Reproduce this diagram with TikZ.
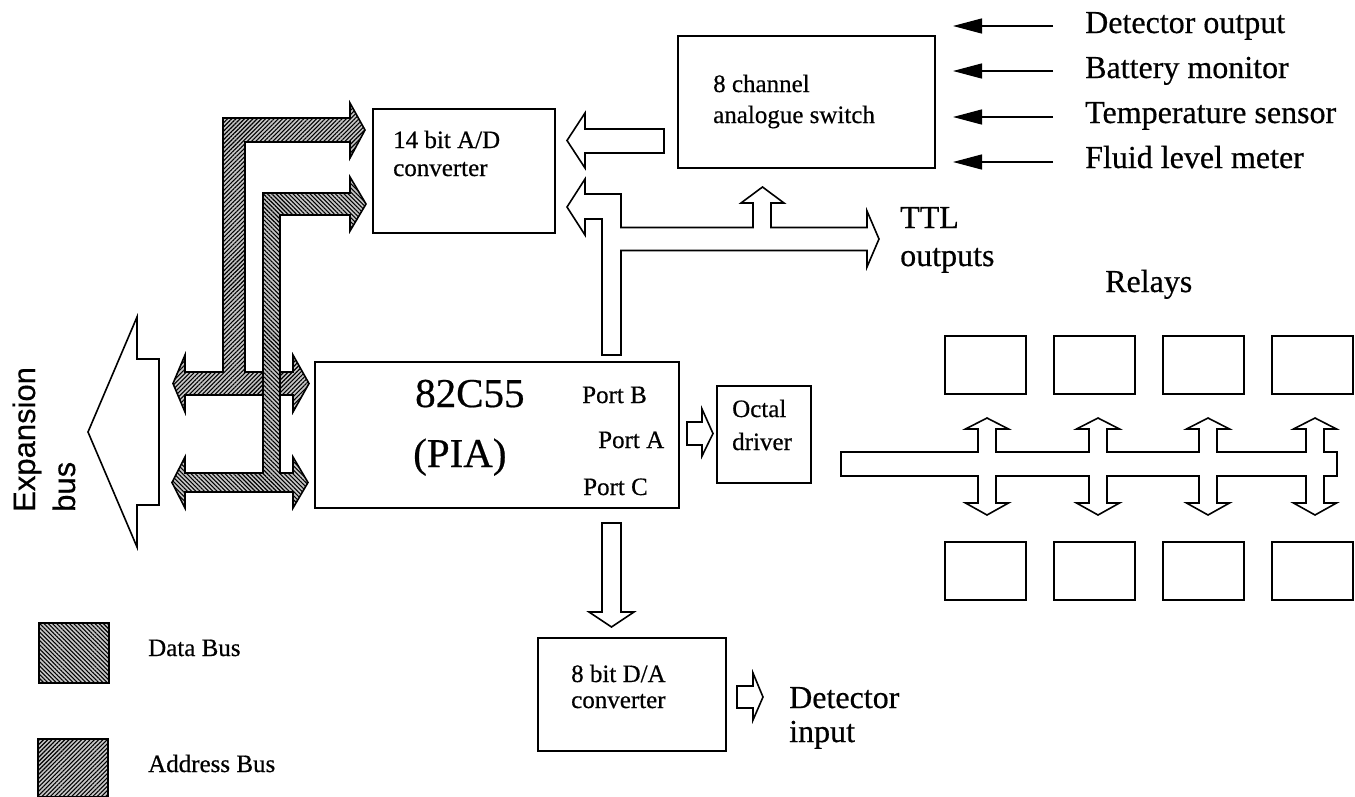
\documentclass[tikz,border=0pt]{standalone}
\usepackage{fontspec}
\setmainfont{Liberation Serif}[FakeBold=0.5]
\newfontfamily\sansf{Liberation Sans}[FakeBold=0.4]
\usetikzlibrary{arrows.meta,patterns.meta}
\begin{document}
\begin{tikzpicture}[x=1pt,y=-1pt,
  box/.style={draw,line width=1.6pt,inner sep=0pt,outer sep=0pt,anchor=north west},
  lbl/.style={anchor=base west,inner sep=0pt,font=\fontsize{25}{30}\selectfont},
  biglbl/.style={anchor=base west,inner sep=0pt,font=\fontsize{32}{38}\selectfont},
  pialbl/.style={anchor=base west,inner sep=0pt,font=\fontsize{41}{48}\selectfont},
  harrow/.style={draw,line width=1.6pt,fill=white,line join=miter},
  databus/.style={draw,line width=1.6pt,line join=miter,preaction={fill=gray!45},
     pattern={Lines[angle=-45,distance=3pt,line width=1.1pt]},pattern color=black},
  addrbus/.style={draw,line width=1.6pt,line join=miter,preaction={fill=gray!45},
     pattern={Lines[angle=45,distance=3pt,line width=1.1pt]},pattern color=black},
  sig/.style={line width=1.4pt,-{Triangle[length=29pt,width=15pt]}}
]
\useasboundingbox (0,0) rectangle (1355,796);

% ---------- boxes ----------
\node[box,minimum width=182pt,minimum height=124pt] (ad) at (373,109) {};
\node[box,minimum width=257pt,minimum height=132pt] (sw) at (678,36) {};
\node[box,minimum width=364pt,minimum height=146pt] (pia) at (315,362) {};
\node[box,minimum width=94pt,minimum height=97pt] (oct) at (717,386) {};
\node[box,minimum width=188pt,minimum height=113pt] (da) at (538,638) {};
\foreach \i/\x in {1/945,2/1054,3/1163,4/1272}{
  \node[box,minimum width=81pt,minimum height=58pt] (rt\i) at (\x,336) {};
  \node[box,minimum width=81pt,minimum height=58pt] (rb\i) at (\x,542) {};
}

% ---------- texts ----------
\node[lbl] (adt1) at (393,148) {14 bit A/D};
\node[lbl] (adt2) at (393,176) {converter};
\node[lbl] (swt1) at (713,92) {8 channel};
\node[lbl] (swt2) at (713,123) {analogue switch};
\node[pialbl] (piat1) at (415,407) {82C55};
\node[pialbl] (piat2) at (413,467) {(PIA)};
\node[lbl] (pb) at (582,403) {Port B};
\node[lbl] (pa) at (598,448) {Port A};
\node[lbl] (pc) at (583,495) {Port C};
\node[lbl] (oct1) at (732,417) {Octal};
\node[lbl] (oct2) at (732,450) {driver};
\node[lbl] (dat1) at (571,682) {8 bit D/A};
\node[lbl] (dat2) at (571,708) {converter};
\node[biglbl] (di1) at (789,708) {Detector};
\node[biglbl] (di2) at (789,742) {input};
\node[biglbl] (ttl1) at (900,228) {TTL};
\node[biglbl] (ttl2) at (900,266) {outputs};
\node[biglbl] (rel) at (1105,292) {Relays};
\node[biglbl] (sg1) at (1085,33) {Detector output};
\node[biglbl] (sg2) at (1085,78) {Battery monitor};
\node[biglbl] (sg3) at (1085,123) {Temperature sensor};
\node[biglbl] (sg4) at (1085,168) {Fluid level meter};
\node[lbl] (lg1) at (148,656) {Data Bus};
\node[lbl] (lg2) at (148,772) {Address Bus};
\node[rotate=90,anchor=base west,inner sep=0pt,font=\sansf\fontsize{31}{37}\selectfont] (exp1) at (35,512) {Expansion};
\node[rotate=90,anchor=base west,inner sep=0pt,font=\sansf\fontsize{31}{37}\selectfont] (exp2) at (75,512) {bus};

% ---------- signal input arrows ----------
\foreach \k/\y in {1/26,2/71,3/117,4/162}{
  \coordinate (ss\k) at (1053,\y);
  \coordinate (se\k) at (953,\y);
  \draw[sig] (ss\k) -- (se\k);
}

% ---------- expansion bus ----------
\draw[line width=1.6pt,line join=miter] (159,359) -- (137,359) -- (137,317) -- (88,432) -- (137,547) -- (137,505) -- (159,505) -- cycle;

% ---------- address bus (outer) ----------
\draw[addrbus] (173,383.5) -- (185,355) -- (185,372) -- (223,372) -- (223,118) -- (350,118) -- (350,103)
  -- (365,130) -- (350,158) -- (350,142) -- (245,142) -- (245,372) -- (293,372) -- (293,355)
  -- (309,383.5) -- (293,412) -- (293,395) -- (185,395) -- (185,412) -- cycle;

% ---------- data bus (inner) ----------
\draw[databus] (172,482.5) -- (185,457) -- (185,473) -- (263,473) -- (263,193) -- (350,193) -- (350,177)
  -- (366,204) -- (350,231) -- (350,215) -- (280,215) -- (280,473) -- (293,473) -- (293,457)
  -- (308,482.5) -- (293,508) -- (293,492) -- (185,492) -- (185,508) -- cycle;

% ---------- legend ----------
\draw[databus] (39,623) rectangle (109,683);
\draw[addrbus] (38,739) rectangle (108,797);

% ---------- hollow arrows ----------
% switch -> A/D
\draw[harrow] (664,129) -- (585,129) -- (585,113) -- (567,140.5) -- (585,168) -- (585,153) -- (664,153) -- cycle;
% PIA port B -> A/D, switch, TTL outputs
\draw[harrow] (567,207) -- (585,179) -- (585,194) -- (621,194) -- (621,227.5) -- (753,227.5) -- (753,203)
  -- (741,203) -- (762.5,187) -- (784,203) -- (771,203) -- (771,227.5) -- (867,227.5) -- (867,211)
  -- (879,239) -- (867,267) -- (867,250.5) -- (621,250.5) -- (621,355) -- (602,355) -- (602,219)
  -- (585,219) -- (585,235) -- cycle;
% port A -> octal driver
\draw[harrow] (687,422) -- (702,422) -- (702,409) -- (713,433.5) -- (702,456) -- (702,445) -- (687,445) -- cycle;
% port C -> D/A
\draw[harrow] (602,523) -- (621,523) -- (621,612) -- (634,612) -- (611.5,627) -- (589,612) -- (602,612) -- cycle;
% D/A -> detector input
\draw[harrow] (737,686) -- (753,686) -- (753,673) -- (763,697) -- (753,720) -- (753,708) -- (737,708) -- cycle;
% relay bus
\draw[harrow] (841,452)
  -- (978,452) -- (978,429) -- (965.5,429) -- (987,418) -- (1008.5,429) -- (996,429) -- (996,452)
  -- (1089,452) -- (1089,429) -- (1076.5,429) -- (1098,418) -- (1119.5,429) -- (1107,429) -- (1107,452)
  -- (1199,452) -- (1199,429) -- (1186.5,429) -- (1208,418) -- (1229.5,429) -- (1217,429) -- (1217,452)
  -- (1306,452) -- (1306,429) -- (1293.5,429) -- (1315,418) -- (1336.5,429) -- (1324,429) -- (1324,452)
  -- (1337,452) -- (1337,476)
  -- (1324,476) -- (1324,503) -- (1336.5,503) -- (1315,515) -- (1293.5,503) -- (1306,503) -- (1306,476)
  -- (1217,476) -- (1217,503) -- (1229.5,503) -- (1208,515) -- (1186.5,503) -- (1199,503) -- (1199,476)
  -- (1107,476) -- (1107,503) -- (1119.5,503) -- (1098,515) -- (1076.5,503) -- (1089,503) -- (1089,476)
  -- (996,476) -- (996,503) -- (1008.5,503) -- (987,515) -- (965.5,503) -- (978,503) -- (978,476)
  -- (841,476) -- cycle;
\end{tikzpicture}
\end{document}
